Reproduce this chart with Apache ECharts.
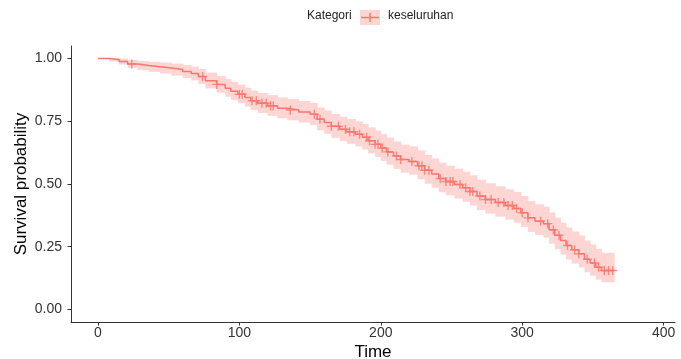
<!DOCTYPE html>
<html>
<head>
<meta charset="utf-8">
<script src="https://cdn.jsdelivr.net/npm/echarts@6/dist/echarts.min.js"></script>
<style>
  html, body { margin: 0; padding: 0; background: #fff; }
  #chart { width: 681px; height: 359px; }
</style>
</head>
<body>
<div id="chart"></div>
<script>
  // Kaplan-Meier steps (time, survival, lower / upper 95% CI)
  var times = [0, 8, 15, 21, 28, 36, 44, 52, 60, 66, 71, 76, 84, 90, 94, 99, 104, 108, 113, 120,
    127, 134, 142, 150, 155, 160, 165, 171, 176, 182, 187, 191, 196, 200, 204, 209, 214, 220, 226, 231,
    236, 241, 246, 252, 258, 263, 268, 274, 281, 288, 294, 299, 304, 309, 315, 319, 323, 327, 331, 335,
    340, 344, 348, 352, 356, 365];
  var surv = [1.000, 0.996, 0.988, 0.978, 0.972, 0.967, 0.962, 0.956, 0.948, 0.940, 0.928, 0.912, 0.897, 0.882, 0.870, 0.858, 0.845, 0.832, 0.822, 0.812,
    0.802, 0.795, 0.787, 0.778, 0.758, 0.745, 0.730, 0.718, 0.708, 0.698, 0.686, 0.672, 0.658, 0.643, 0.628, 0.612, 0.598, 0.590, 0.573, 0.555,
    0.540, 0.522, 0.510, 0.498, 0.485, 0.470, 0.452, 0.438, 0.426, 0.414, 0.402, 0.385, 0.365, 0.352, 0.342, 0.318, 0.296, 0.275, 0.255, 0.238,
    0.222, 0.200, 0.185, 0.168, 0.155, 0.155];
  var lower = [1.000, 0.988, 0.976, 0.963, 0.954, 0.947, 0.940, 0.932, 0.922, 0.913, 0.899, 0.881, 0.864, 0.848, 0.835, 0.822, 0.808, 0.794, 0.783, 0.772,
    0.762, 0.754, 0.745, 0.735, 0.714, 0.700, 0.684, 0.671, 0.660, 0.650, 0.637, 0.622, 0.608, 0.592, 0.577, 0.560, 0.545, 0.537, 0.519, 0.501,
    0.485, 0.467, 0.455, 0.442, 0.429, 0.414, 0.396, 0.382, 0.370, 0.358, 0.346, 0.329, 0.309, 0.296, 0.286, 0.262, 0.240, 0.219, 0.199, 0.183,
    0.168, 0.148, 0.134, 0.119, 0.108, 0.108];
  var upper = [1.000, 1.000, 1.000, 0.994, 0.990, 0.987, 0.984, 0.980, 0.974, 0.968, 0.958, 0.944, 0.931, 0.918, 0.907, 0.896, 0.884, 0.872, 0.863, 0.854,
    0.845, 0.838, 0.831, 0.823, 0.805, 0.793, 0.779, 0.768, 0.759, 0.750, 0.739, 0.726, 0.713, 0.699, 0.685, 0.670, 0.657, 0.650, 0.634, 0.616,
    0.602, 0.585, 0.573, 0.561, 0.549, 0.535, 0.517, 0.503, 0.491, 0.479, 0.468, 0.452, 0.432, 0.419, 0.410, 0.387, 0.366, 0.346, 0.327, 0.311,
    0.295, 0.274, 0.259, 0.241, 0.226, 0.226];
  // censored times (+ marks)
  var censorTimes = [24, 74, 84, 100, 102, 109, 112, 116, 119, 122, 124, 136, 153, 157, 165, 170, 175, 178, 181, 185,
    190, 192, 196, 198, 201, 205, 211, 214, 222, 227, 229, 231, 234, 242, 246, 249, 251, 256, 260, 263, 265,
    270, 274, 278, 283, 287, 290, 293, 296, 300, 304, 313, 318, 322, 326, 332, 337, 340, 346, 351, 354, 358, 361, 364];
  var xTicks = [0, 100, 200, 300, 400];
  var yTicks = [0, 0.25, 0.5, 0.75, 1];

  var col = '#F8766D';
  var bandCol = '#FDD6D3';
  var fontFam = '"Liberation Sans", Arial, sans-serif';

  function survAt(t) {
    var s = surv[0];
    for (var i = 0; i < times.length; i++) {
      if (times[i] <= t) s = surv[i];
    }
    return s;
  }

  var kmData = times.map(function (t, i) { return [t, surv[i]]; });
  // one box per step: [t0, t1, lower, upper]
  var bandData = [];
  for (var i = 0; i < times.length - 1; i++) {
    bandData.push([times[i], times[i + 1], lower[i], upper[i]]);
  }
  var censorData = censorTimes.map(function (t) { return [t, survAt(t)]; });

  var chart = echarts.init(document.getElementById('chart'), null, { renderer: 'canvas' });
  chart.setOption({
    animation: false,
    backgroundColor: '#fff',
    textStyle: { fontFamily: fontFam },
    grid: { left: 71, right: 6, top: 46, bottom: 37, containLabel: false, outerBoundsMode: 'none' },
    xAxis: {
      type: 'value', min: -19, max: 408, interval: 100,
      name: 'Time', nameLocation: 'middle', nameGap: 22, nameMoveOverlap: false,
      nameTextStyle: { fontSize: 17, color: '#000', fontFamily: fontFam },
      axisLine: { show: true, onZero: false, lineStyle: { color: '#333', width: 1 } },
      axisTick: { show: true, length: 3.5, lineStyle: { color: '#333' }, customValues: xTicks },
      axisLabel: { fontSize: 14, color: '#333', margin: 4, customValues: xTicks },
      splitLine: { show: false }
    },
    yAxis: {
      type: 'value', min: -0.05, max: 1.05,
      name: 'Survival probability', nameLocation: 'middle', nameGap: 41, nameMoveOverlap: false,
      nameTextStyle: { fontSize: 17, color: '#000', fontFamily: fontFam },
      axisLine: { show: true, onZero: false, lineStyle: { color: '#333', width: 1 } },
      axisTick: { show: true, length: 3.5, lineStyle: { color: '#333' }, customValues: yTicks },
      axisLabel: { fontSize: 14, color: '#333', margin: 9, customValues: yTicks,
        formatter: function (v) { return v.toFixed(2); } },
      splitLine: { show: false }
    },
    series: [
      {
        type: 'custom', data: bandData, silent: true,
        renderItem: function (params, api) {
          var p0 = api.coord([api.value(0), api.value(3)]);
          var p1 = api.coord([api.value(1), api.value(2)]);
          return {
            type: 'rect',
            shape: { x: p0[0], y: p0[1], width: p1[0] - p0[0] + 0.5, height: p1[1] - p0[1] },
            style: { fill: bandCol }
          };
        }
      },
      {
        type: 'line', step: 'end', data: kmData, symbol: 'none',
        lineStyle: { color: col, width: 1.5 }
      },
      {
        type: 'scatter', data: censorData,
        symbol: 'path://M4.2,0H5.8V4.2H10V5.8H5.8V10H4.2V5.8H0V4.2H4.2Z',
        symbolSize: 9, itemStyle: { color: col }
      }
    ],
    graphic: [
      { type: 'text', left: 307, top: 10, style: { text: 'Kategori', fontSize: 12, fill: '#222', fontFamily: fontFam } },
      { type: 'rect', shape: { x: 360, y: 10, width: 20, height: 15 }, style: { fill: bandCol } },
      { type: 'line', shape: { x1: 361, y1: 17.5, x2: 379, y2: 17.5 }, style: { stroke: col, lineWidth: 1.5 } },
      { type: 'line', shape: { x1: 370, y1: 13, x2: 370, y2: 22 }, style: { stroke: col, lineWidth: 1.5 } },
      { type: 'text', left: 388, top: 10, style: { text: 'keseluruhan', fontSize: 12, fill: '#222', fontFamily: fontFam } }
    ]
  });
</script>
</body>
</html>
